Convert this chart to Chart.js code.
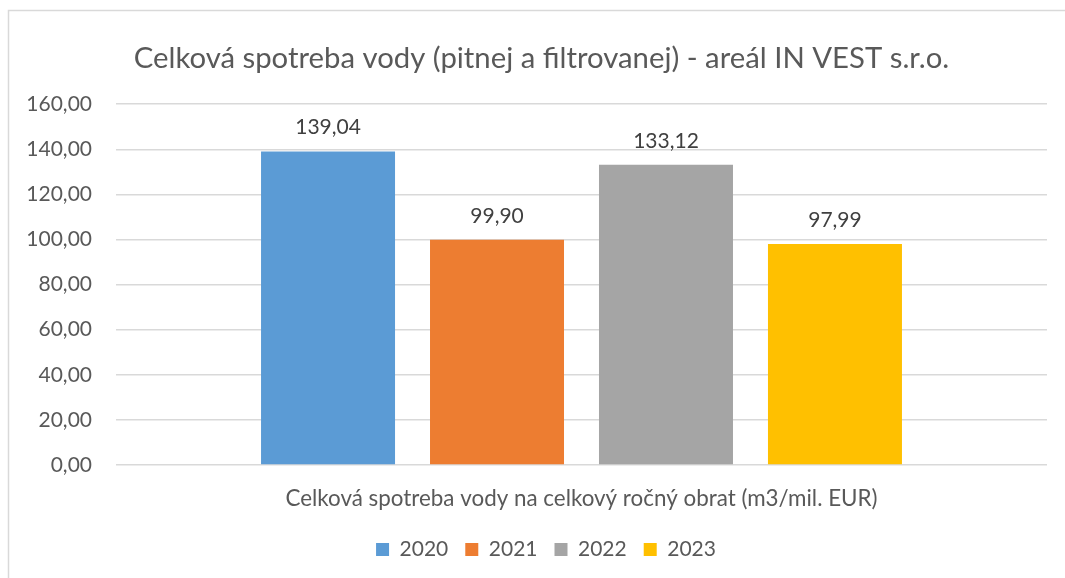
<!DOCTYPE html>
<html>
<head>
<meta charset="utf-8">
<script src="https://cdn.jsdelivr.net/npm/chart.js@4"></script>
<style>
  html, body { margin: 0; padding: 0; background: #ffffff; }
  #c { display: block; }
</style>
</head>
<body>
<canvas id="c" width="1065" height="578"></canvas>
<script>
const chartTitle = 'Celková spotreba vody (pitnej a filtrovanej) - areál IN VEST s.r.o.';
const categories = ['Celková spotreba vody na celkový ročný obrat (m3/mil. EUR)'];
const seriesNames = ['2020', '2021', '2022', '2023'];
const values2020 = [139.04];
const values2021 = [99.90];
const values2022 = [133.12];
const values2023 = [97.99];
const seriesColors = ['#5B9BD5', '#ED7D31', '#A5A5A5', '#FFC000'];
const yMin = 0, yMax = 160, yStep = 20;

const FONT = 'Lato, "Open Sans", sans-serif';
const fmt = v => v.toFixed(2).replace('.', ',');

const frame = {
  id: 'frame',
  beforeDraw(chart) {
    const ctx = chart.ctx;
    ctx.save();
    ctx.strokeStyle = '#d9d9d9';
    ctx.lineWidth = 1.5;
    ctx.beginPath();
    ctx.moveTo(8.5, 600);
    ctx.lineTo(8.5, 10.5);
    ctx.lineTo(1100, 10.5);
    ctx.stroke();
    ctx.restore();
  }
};

// shift title and legend boxes horizontally (Excel centres them on its own frame)
const shiftBoxes = {
  id: 'shiftBoxes',
  afterLayout(chart) {
    const t = chart.titleBlock;
    if (t) { t.left += 18; t.right += 18; }
    const l = chart.legend;
    if (l) { l.left += 22.5; l.right += 22.5; }
  }
};

const dataLabels = {
  id: 'dataLabels',
  afterDatasetsDraw(chart) {
    const ctx = chart.ctx;
    ctx.save();
    ctx.font = '21px ' + FONT;
    ctx.fillStyle = '#404040';
    ctx.textAlign = 'center';
    ctx.textBaseline = 'alphabetic';
    chart.data.datasets.forEach((ds, i) => {
      const meta = chart.getDatasetMeta(i);
      meta.data.forEach((el, j) => {
        ctx.fillText(fmt(ds.data[j]), el.x, el.y - 17);
      });
    });
    ctx.restore();
  }
};

const allSeries = [values2020, values2021, values2022, values2023];

new Chart(document.getElementById('c'), {
  type: 'bar',
  data: {
    labels: categories,
    datasets: seriesNames.map((name, i) => ({
      label: name,
      data: allSeries[i],
      backgroundColor: seriesColors[i],
      borderWidth: 0,
      barPercentage: 0.793,
      categoryPercentage: 0.726
    }))
  },
  options: {
    responsive: false,
    devicePixelRatio: 1,
    animation: false,
    layout: { padding: { left: 0, right: 18, top: 0, bottom: 8 } },
    plugins: {
      tooltip: { enabled: false },
      title: {
        display: true,
        text: chartTitle,
        color: '#595959',
        font: { family: FONT, size: 29.3, weight: 'normal', lineHeight: 1.2 },
        padding: { top: 41, bottom: 28 }
      },
      legend: {
        position: 'bottom',
        labels: {
          color: '#595959',
          font: { family: FONT, size: 21 },
          boxWidth: 13,
          boxHeight: 13,
          padding: 17
        }
      }
    },
    scales: {
      x: {
        grid: { display: false, drawTicks: false },
        border: { display: false },
        ticks: {
          color: '#595959',
          font: { family: FONT, size: 22.4 },
          padding: 20,
          maxRotation: 0
        },
        afterFit(scale) { scale.height = 57; }
      },
      y: {
        min: yMin,
        max: yMax,
        grid: { color: '#d9d9d9', lineWidth: 1.5, drawTicks: false },
        border: { display: false },
        ticks: {
          stepSize: yStep,
          color: '#595959',
          font: { family: FONT, size: 21 },
          padding: 24,
          callback: v => fmt(v)
        },
        afterFit(scale) { scale.width = 116; }
      }
    }
  },
  plugins: [frame, shiftBoxes, dataLabels]
});
</script>
</body>
</html>
